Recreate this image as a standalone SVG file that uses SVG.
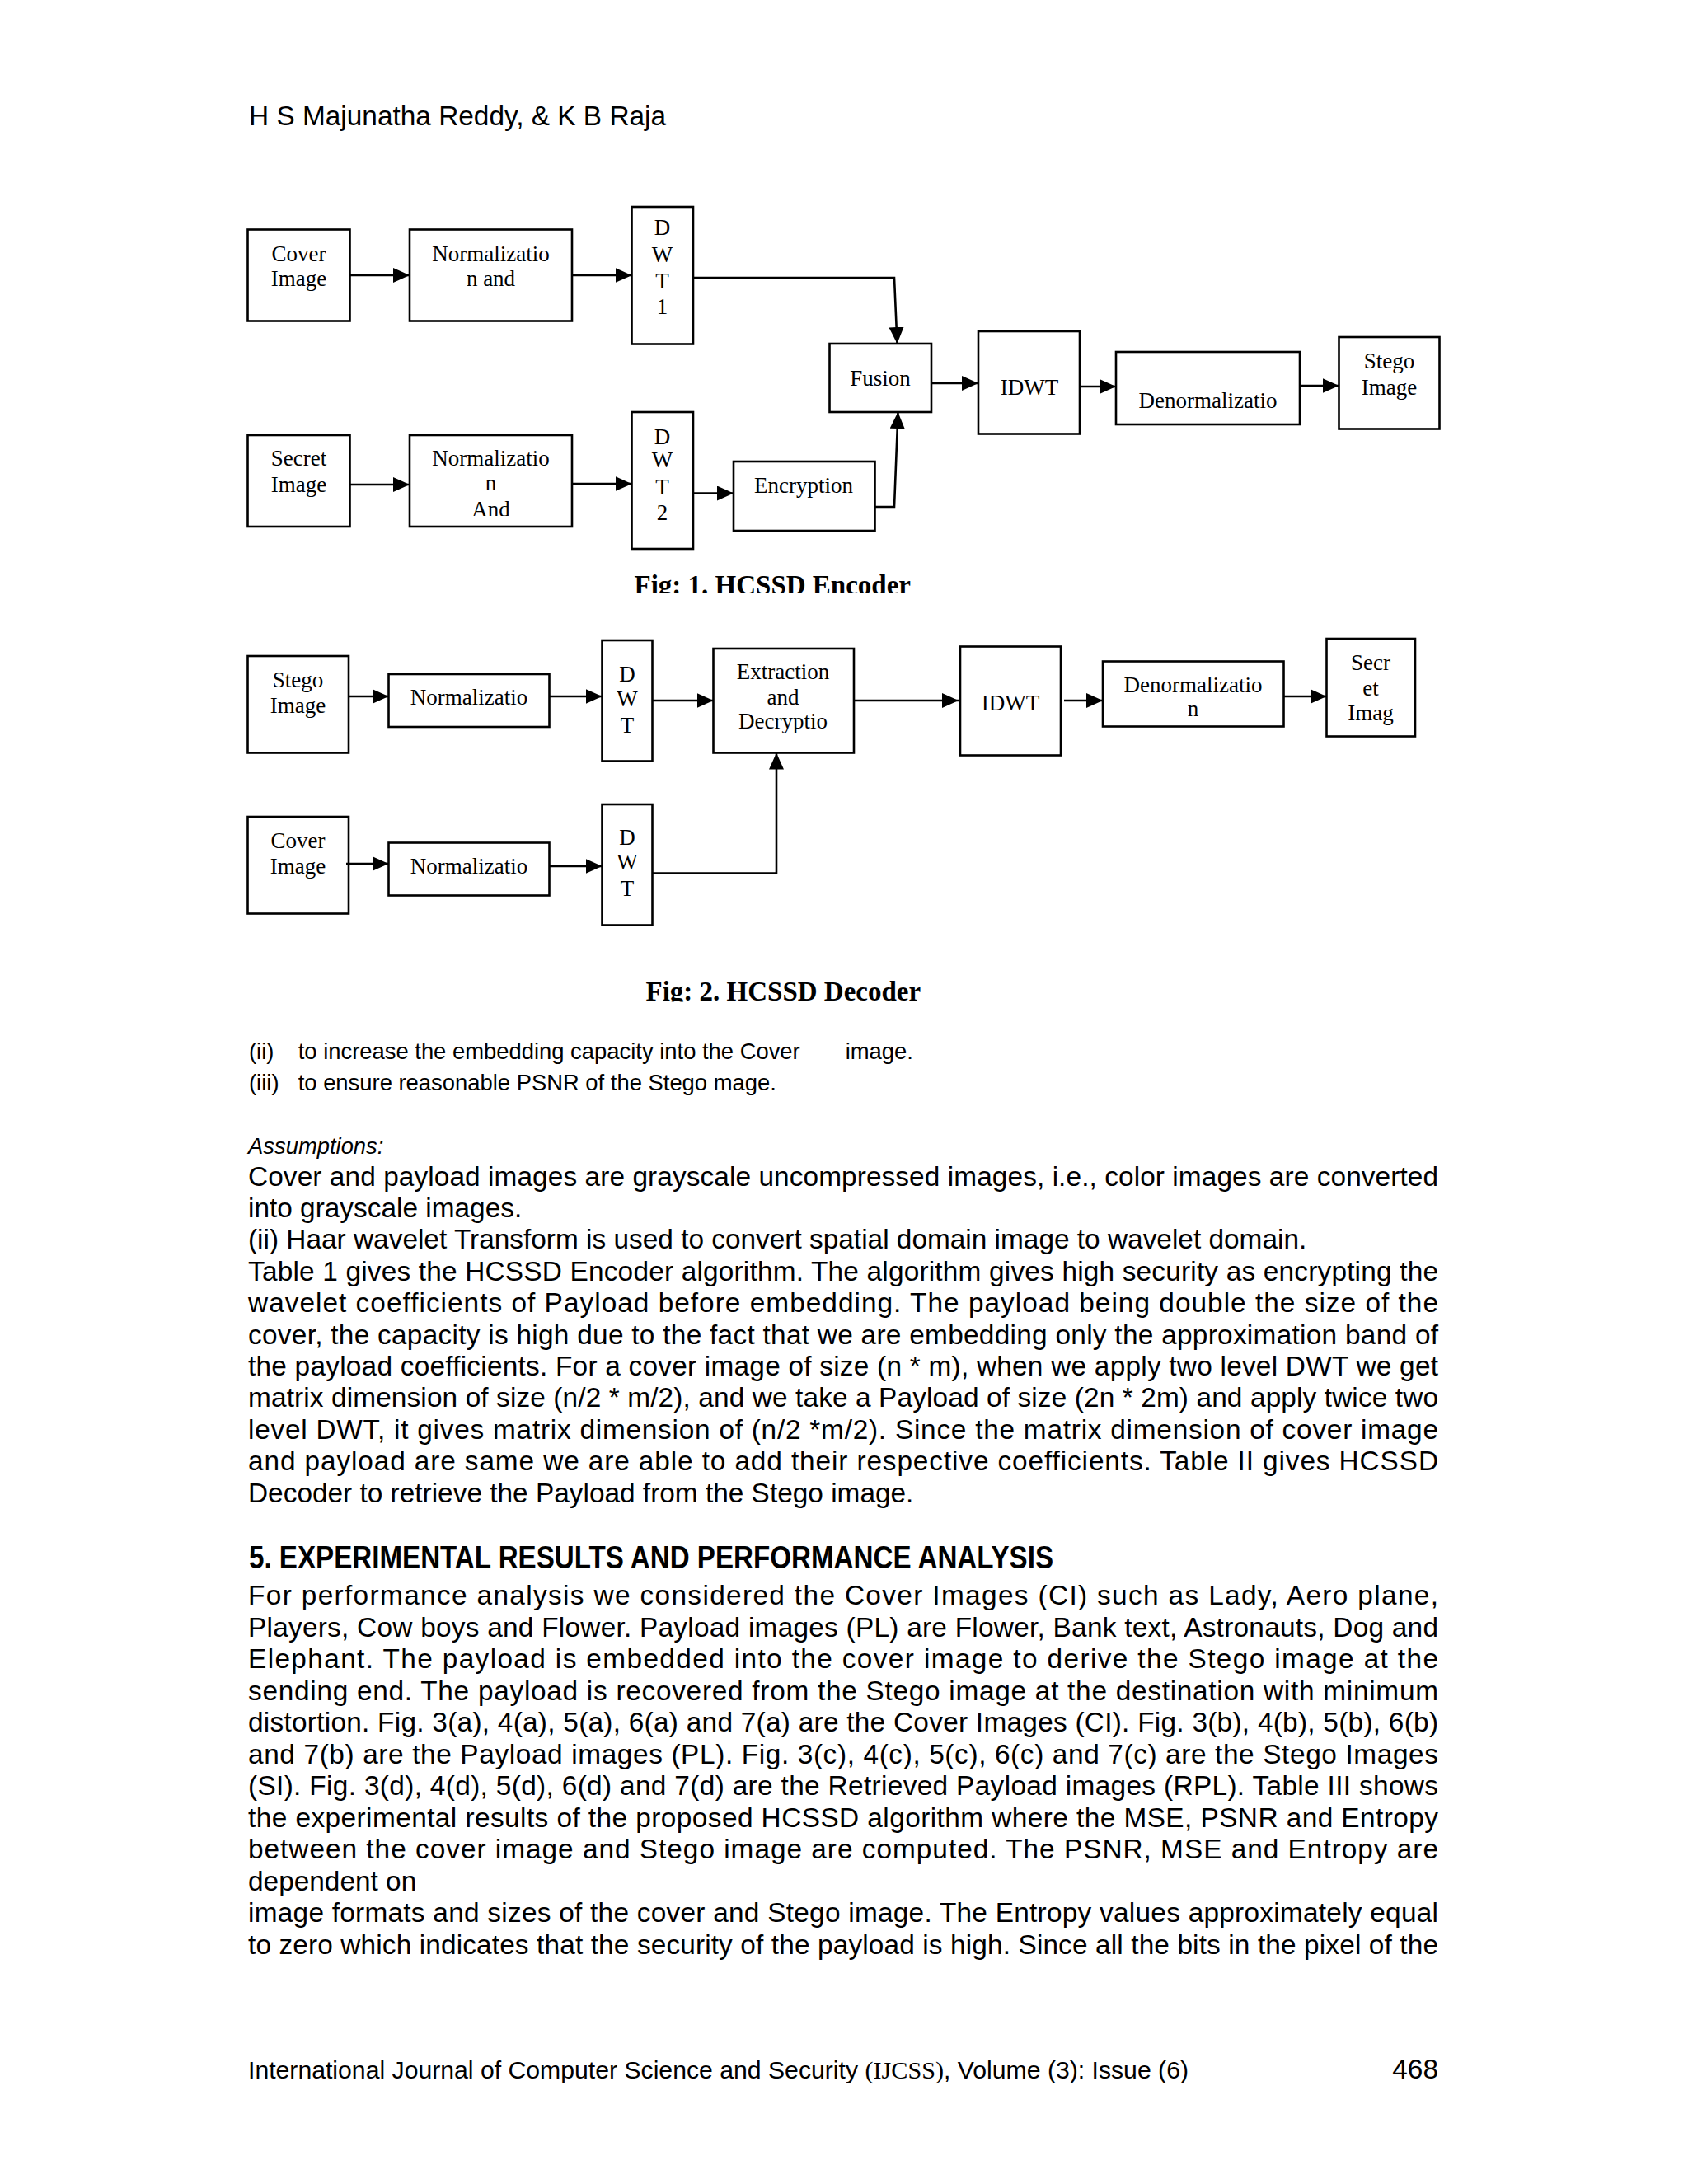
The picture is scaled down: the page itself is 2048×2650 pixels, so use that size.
<svg xmlns="http://www.w3.org/2000/svg" width="2048" height="2650" viewBox="0 0 2048 2650">
<style>
.box{fill:#fff;stroke:#000;stroke-width:2.6}
.t{font-family:"Liberation Serif","Times New Roman",serif;font-size:27px;text-anchor:middle;fill:#000}
.c{fill:none;stroke:#000;stroke-width:2.6}
.b{font-family:"Liberation Sans",Arial,sans-serif;font-size:33.4px;fill:#000}
.s{font-family:"Liberation Sans",Arial,sans-serif;font-size:27.4px;fill:#000}
.cap{font-family:"Liberation Serif","Times New Roman",serif;font-size:33px;font-weight:bold;fill:#000}
</style>
<defs>
<marker id="ah" markerUnits="userSpaceOnUse" markerWidth="20" markerHeight="18" refX="20" refY="9" orient="auto">
<path d="M0,0 L20,9 L0,18 z" fill="#000"/>
</marker>
<clipPath id="clipCap1"><rect x="700" y="680" width="500" height="39.5"/></clipPath>
<clipPath id="clipCap2"><rect x="700" y="1170" width="500" height="45.5"/></clipPath>
<clipPath id="clipAnd"><rect x="497" y="600" width="197" height="26"/></clipPath>
</defs>
<rect width="2048" height="2650" fill="#fff"/>

<text class="b" x="302" y="152">H S Majunatha Reddy, &amp; K B Raja</text>

<!-- Encoder nodes -->
<g id="enc-cover">
<rect class="box" x="300.5" y="278.5" width="124" height="111"/>
<text class="t" x="362.5" y="317">Cover</text>
<text class="t" x="362.5" y="346.5">Image</text>
</g>
<g id="enc-norm1">
<rect class="box" x="497" y="278.5" width="197" height="111"/>
<text class="t" x="595.5" y="317">Normalizatio</text>
<text class="t" x="595.5" y="346.5">n and</text>
</g>
<g id="enc-dwt1">
<rect class="box" x="766.5" y="251" width="74.5" height="166.5"/>
<text class="t" x="803.5" y="285">D</text>
<text class="t" x="803.5" y="318">W</text>
<text class="t" x="803.5" y="349.5">T</text>
<text class="t" x="803.5" y="381">1</text>
</g>
<g id="enc-secret">
<rect class="box" x="300.5" y="528" width="124" height="111"/>
<text class="t" x="362.5" y="565">Secret</text>
<text class="t" x="362.5" y="596.5">Image</text>
</g>
<g id="enc-norm2">
<rect class="box" x="497" y="528" width="197" height="111"/>
<text class="t" x="595.5" y="565">Normalizatio</text>
<text class="t" x="595.5" y="595">n</text>
<text class="t" x="595.5" y="627" clip-path="url(#clipAnd)">And</text>
</g>
<g id="enc-dwt2">
<rect class="box" x="766.5" y="500" width="74.5" height="166"/>
<text class="t" x="803.5" y="538.5">D</text>
<text class="t" x="803.5" y="567">W</text>
<text class="t" x="803.5" y="599.5">T</text>
<text class="t" x="803.5" y="630.5">2</text>
</g>
<g id="enc-encryption">
<rect class="box" x="890" y="560" width="171.5" height="84"/>
<text class="t" x="975" y="597.5">Encryption</text>
</g>
<g id="enc-fusion">
<rect class="box" x="1006.5" y="417" width="123.5" height="83"/>
<text class="t" x="1068" y="467.5">Fusion</text>
</g>
<g id="enc-idwt">
<rect class="box" x="1187" y="402" width="123" height="124.5"/>
<text class="t" x="1249" y="478.5">IDWT</text>
</g>
<g id="enc-denorm">
<rect class="box" x="1354" y="427" width="223" height="88"/>
<text class="t" x="1465.5" y="495">Denormalizatio</text>
</g>
<g id="enc-stego">
<rect class="box" x="1624.5" y="409" width="122" height="111.5"/>
<text class="t" x="1685.5" y="446.5">Stego</text>
<text class="t" x="1685.5" y="478.5">Image</text>
</g>

<g clip-path="url(#clipCap1)"><text class="cap" x="769.5" y="721">Fig: 1. HCSSD Encoder</text></g>

<!-- Decoder nodes -->
<g id="dec-stego">
<rect class="box" x="300.5" y="796" width="122.5" height="117.5"/>
<text class="t" x="361.5" y="834">Stego</text>
<text class="t" x="361.5" y="865">Image</text>
</g>
<g id="dec-norm1">
<rect class="box" x="471.5" y="818" width="195" height="64"/>
<text class="t" x="569" y="855">Normalizatio</text>
</g>
<g id="dec-dwt1">
<rect class="box" x="730.5" y="777" width="61" height="146.5"/>
<text class="t" x="761" y="827">D</text>
<text class="t" x="761" y="857">W</text>
<text class="t" x="761" y="888.5">T</text>
</g>
<g id="dec-extraction">
<rect class="box" x="865.5" y="787" width="170.5" height="126.5"/>
<text class="t" x="950" y="824">Extraction</text>
<text class="t" x="950" y="855">and</text>
<text class="t" x="950" y="884">Decryptio</text>
</g>
<g id="dec-idwt">
<rect class="box" x="1165" y="784.5" width="122" height="132"/>
<text class="t" x="1226" y="861.5">IDWT</text>
</g>
<g id="dec-denorm">
<rect class="box" x="1338" y="802.5" width="219.5" height="79"/>
<text class="t" x="1447.5" y="839.5">Denormalizatio</text>
<text class="t" x="1447.5" y="868.5">n</text>
</g>
<g id="dec-secret">
<rect class="box" x="1609.5" y="775" width="107.5" height="118.5"/>
<text class="t" x="1663" y="812.5">Secr</text>
<text class="t" x="1663" y="843.5">et</text>
<text class="t" x="1663" y="873.5">Imag</text>
</g>
<g id="dec-cover">
<rect class="box" x="300.5" y="991" width="122.5" height="117.5"/>
<text class="t" x="361.5" y="1028.5">Cover</text>
<text class="t" x="361.5" y="1059.5">Image</text>
</g>
<g id="dec-norm2">
<rect class="box" x="471.5" y="1022.5" width="195" height="64"/>
<text class="t" x="569" y="1060">Normalizatio</text>
</g>
<g id="dec-dwt2">
<rect class="box" x="730.5" y="976" width="61" height="146.5"/>
<text class="t" x="761" y="1025">D</text>
<text class="t" x="761" y="1055">W</text>
<text class="t" x="761" y="1087">T</text>
</g>

<g clip-path="url(#clipCap2)"><text class="cap" x="783.5" y="1213.5">Fig: 2. HCSSD Decoder</text></g>

<!-- Connectors -->
<g id="connectors" class="c">
<line class="c" x1="424.5" y1="334" x2="497" y2="334" marker-end="url(#ah)"/>
<line class="c" x1="694" y1="334" x2="766.5" y2="334" marker-end="url(#ah)"/>
<polyline class="c" points="841,337 1085,337 1088.5,417" marker-end="url(#ah)"/>
<line class="c" x1="424.5" y1="588" x2="497" y2="588" marker-end="url(#ah)"/>
<line class="c" x1="694" y1="587" x2="766.5" y2="587" marker-end="url(#ah)"/>
<line class="c" x1="841" y1="598.5" x2="890" y2="598.5" marker-end="url(#ah)"/>
<polyline class="c" points="1061.5,615 1085,615 1089.5,500" marker-end="url(#ah)"/>
<line class="c" x1="1130" y1="465" x2="1187" y2="465" marker-end="url(#ah)"/>
<line class="c" x1="1310" y1="469" x2="1354" y2="469" marker-end="url(#ah)"/>
<line class="c" x1="1577" y1="468" x2="1624.5" y2="468" marker-end="url(#ah)"/>
<line class="c" x1="423" y1="845" x2="471.5" y2="845" marker-end="url(#ah)"/>
<line class="c" x1="666.5" y1="845" x2="730.5" y2="845" marker-end="url(#ah)"/>
<line class="c" x1="791.5" y1="850" x2="865.5" y2="850" marker-end="url(#ah)"/>
<line class="c" x1="1036" y1="850" x2="1163" y2="850" marker-end="url(#ah)"/>
<line class="c" x1="1291" y1="850" x2="1338" y2="850" marker-end="url(#ah)"/>
<line class="c" x1="1557.5" y1="845" x2="1609.5" y2="845" marker-end="url(#ah)"/>
<line class="c" x1="420" y1="1048" x2="471.5" y2="1048" marker-end="url(#ah)"/>
<line class="c" x1="666.5" y1="1051" x2="730.5" y2="1051" marker-end="url(#ah)"/>
<polyline class="c" points="791.5,1059.5 942,1059.5 942,913.5" marker-end="url(#ah)"/>
</g>

<!-- Body text -->
<text class="s" x="302" y="1285">(ii)</text>
<text class="s" x="361.7" y="1285">to increase the embedding capacity into the Cover</text>
<text class="s" x="1025.7" y="1285">image.</text>
<text class="s" x="302" y="1323">(iii)</text>
<text class="s" x="361.7" y="1323">to ensure reasonable PSNR of the Stego mage.</text>
<text class="s" x="301" y="1400" font-style="italic">Assumptions:</text>

<g class="b">
<text x="301" y="1438.5" textLength="1444" lengthAdjust="spacing">Cover and payload images are grayscale uncompressed images, i.e., color images are converted</text>
<text x="301" y="1476.9">into grayscale images.</text>
<text x="301" y="1515.3">(ii) Haar wavelet Transform is used to convert spatial  domain image to wavelet domain.</text>
<text x="301" y="1553.7" textLength="1444" lengthAdjust="spacing">Table 1 gives the HCSSD Encoder algorithm. The algorithm gives high security as encrypting the</text>
<text x="301" y="1592.1" textLength="1444" lengthAdjust="spacing">wavelet coefficients of Payload before embedding. The payload being double the size of the</text>
<text x="301" y="1630.5" textLength="1444" lengthAdjust="spacing">cover, the capacity is high due to the fact that we  are embedding only the approximation band of</text>
<text x="301" y="1668.9" textLength="1444" lengthAdjust="spacing">the payload coefficients. For a cover image of size (n * m), when we apply two level DWT we get</text>
<text x="301" y="1707.3" textLength="1444" lengthAdjust="spacing">matrix dimension of size (n/2 * m/2), and we take a Payload of size (2n * 2m) and apply twice two</text>
<text x="301" y="1745.7" textLength="1444" lengthAdjust="spacing">level DWT, it gives matrix dimension of (n/2 *m/2). Since the matrix dimension of cover image</text>
<text x="301" y="1784.1" textLength="1444" lengthAdjust="spacing">and payload are same we are able to add their respective coefficients. Table II gives HCSSD</text>
<text x="301" y="1822.5">Decoder to retrieve the Payload from the Stego image.</text>
</g>

<text x="302" y="1903" font-family="'Liberation Sans',Arial,sans-serif" font-size="38" font-weight="bold" textLength="976" lengthAdjust="spacingAndGlyphs">5. EXPERIMENTAL RESULTS AND PERFORMANCE ANALYSIS</text>

<g class="b">
<text x="301" y="1947" textLength="1444" lengthAdjust="spacing">For performance analysis we considered the Cover Images (CI) such as Lady, Aero plane,</text>
<text x="301" y="1985.5" textLength="1444" lengthAdjust="spacing">Players, Cow boys and Flower. Payload images (PL) are Flower, Bank text, Astronauts, Dog and</text>
<text x="301" y="2024" textLength="1444" lengthAdjust="spacing">Elephant. The payload is embedded into the cover image to derive the Stego image at the</text>
<text x="301" y="2062.5" textLength="1444" lengthAdjust="spacing">sending end. The payload is recovered from the Stego image at the destination with minimum</text>
<text x="301" y="2101" textLength="1444" lengthAdjust="spacing">distortion. Fig. 3(a), 4(a), 5(a), 6(a) and 7(a) are the Cover Images (CI). Fig. 3(b), 4(b), 5(b), 6(b)</text>
<text x="301" y="2139.5" textLength="1444" lengthAdjust="spacing">and 7(b) are the Payload images (PL). Fig. 3(c), 4(c), 5(c), 6(c) and 7(c) are the Stego Images</text>
<text x="301" y="2178" textLength="1444" lengthAdjust="spacing">(SI). Fig. 3(d), 4(d), 5(d), 6(d) and 7(d) are the Retrieved Payload images (RPL). Table III shows</text>
<text x="301" y="2216.5" textLength="1444" lengthAdjust="spacing">the experimental results of the proposed HCSSD algorithm where the MSE, PSNR and Entropy</text>
<text x="301" y="2255" textLength="1444" lengthAdjust="spacing">between the cover image and Stego image are computed. The PSNR, MSE and Entropy are</text>
<text x="301" y="2293.5">dependent on</text>
<text x="301" y="2332" textLength="1444" lengthAdjust="spacing">image formats and sizes of the cover and Stego image. The Entropy values approximately equal</text>
<text x="301" y="2370.5" textLength="1444" lengthAdjust="spacing">to zero which indicates that the security of the payload is high. Since all the bits in the pixel of the</text>
</g>

<g font-family="'Liberation Sans',Arial,sans-serif">
<text x="301" y="2522" font-size="30.2">International Journal of Computer Science and Security <tspan font-family="'Liberation Serif','Times New Roman',serif">(IJCSS)</tspan>, Volume (3): Issue (6)</text>
<text x="1745" y="2522" font-size="33.4" text-anchor="end">468</text>
</g>
</svg>
